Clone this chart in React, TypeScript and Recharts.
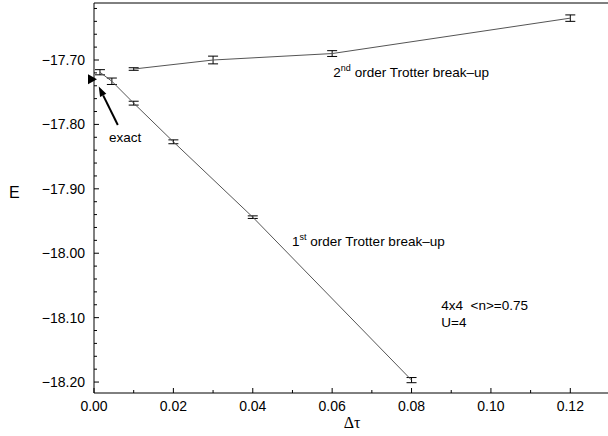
import React from 'react';
import { ComposedChart, Line, XAxis, YAxis, ErrorBar, ReferenceDot, ReferenceLine } from 'recharts';

// ---- data ----
const dtFirst = [0.0015, 0.0045, 0.01, 0.02, 0.04, 0.08];
const eFirst = [-17.719, -17.733, -17.767, -17.827, -17.944, -18.197];
const errFirst = [0.004, 0.005, 0.003, 0.003, 0.002, 0.004];

const dtSecond = [0.01, 0.03, 0.06, 0.12];
const eSecond = [-17.714, -17.7, -17.69, -17.635];
const errSecond = [0.002, 0.006, 0.0045, 0.005];

const exactE = -17.73;

const xTicks = [0, 0.01, 0.02, 0.03, 0.04, 0.05, 0.06, 0.07, 0.08, 0.09, 0.1, 0.11, 0.12, 0.13];
const yTicks = [
  -18.2, -18.18, -18.16, -18.14, -18.12, -18.1, -18.08, -18.06, -18.04, -18.02,
  -18.0, -17.98, -17.96, -17.94, -17.92, -17.9, -17.88, -17.86, -17.84, -17.82,
  -17.8, -17.78, -17.76, -17.74, -17.72, -17.7, -17.68, -17.66, -17.64, -17.62,
];

const labelSecond = { x: 0.0603, y: -17.7264 };
const labelFirst = { x: 0.0499, y: -17.9888 };
const labelParams = { x: 0.0875, y: -18.088 };
const labelParams2 = { x: 0.0875, y: -18.114 };
const labelExact = { x: 0.0038, y: -17.827 };
const arrowTail = { x: 0.006, y: -17.801 };
const arrowTip = { x: 0.0012, y: -17.741 };

const firstData = dtFirst.map((dt, i) => ({ dt, e: eFirst[i], err: errFirst[i] }));
const secondData = dtSecond.map((dt, i) => ({ dt, e: eSecond[i], err: errSecond[i] }));

const FONT = 'Liberation Sans, Arial, Helvetica, sans-serif';

const isMajorX = (v: number) => Math.round(v * 100) % 2 === 0;
const isMajorY = (v: number) => Math.abs(Math.round(v * 10) - v * 10) < 1e-6;

const BottomTick = (p: any) => {
  const v = p.payload.value;
  const major = isMajorX(v);
  return (
    <g>
      <line x1={p.x} x2={p.x} y1={p.y} y2={p.y - (major ? 5 : 3)} stroke="#000" strokeWidth={1} />
      {major && (
        <text x={p.x} y={p.y + 18} textAnchor="middle" fontSize={14} fontFamily={FONT} fill="#000">
          {v.toFixed(2)}
        </text>
      )}
    </g>
  );
};

const TopTick = (p: any) => {
  const v = p.payload.value;
  const major = isMajorX(v);
  return <line x1={p.x} x2={p.x} y1={p.y} y2={p.y + (major ? 5 : 3)} stroke="#000" strokeWidth={1} />;
};

const LeftTick = (p: any) => {
  const v = p.payload.value;
  const major = isMajorY(v);
  return (
    <g>
      <line x1={p.x} x2={p.x + (major ? 5 : 3)} y1={p.y} y2={p.y} stroke="#000" strokeWidth={1} />
      {major && (
        <text x={p.x - 9} y={p.y + 5} textAnchor="end" fontSize={14} fontFamily={FONT} fill="#000">
          {v.toFixed(2).replace('-', '\u2212')}
        </text>
      )}
    </g>
  );
};

const RightTick = (p: any) => {
  const v = p.payload.value;
  const major = isMajorY(v);
  return <line x1={p.x} x2={p.x - (major ? 5 : 3)} y1={p.y} y2={p.y} stroke="#000" strokeWidth={1} />;
};

const textShape = (content: React.ReactNode) => (p: any) => (
  <text x={p.cx} y={p.cy} fontSize={13.5} fontFamily={FONT} fill="#000" style={{ whiteSpace: 'pre' }}>
    {content}
  </text>
);

const Triangle = (p: any) => (
  <polygon points={`${p.cx - 6},${p.cy - 5} ${p.cx + 3},${p.cy} ${p.cx - 6},${p.cy + 5}`} fill="#000" />
);

const Arrow = (p: any) => {
  const { x1, y1, x2, y2 } = p;
  const dx = x2 - x1;
  const dy = y2 - y1;
  const len = Math.sqrt(dx * dx + dy * dy) || 1;
  const ux = dx / len;
  const uy = dy / len;
  const hl = 10;
  const hw = 3.5;
  const bx = x2 - ux * hl;
  const by = y2 - uy * hl;
  return (
    <g>
      <line x1={x1} y1={y1} x2={bx} y2={by} stroke="#000" strokeWidth={2} />
      <polygon
        points={`${x2},${y2} ${bx - uy * hw},${by + ux * hw} ${bx + uy * hw},${by - ux * hw}`}
        fill="#000"
      />
    </g>
  );
};

export default function App() {
  return (
    <div style={{ position: 'absolute', left: 0, top: 0, width: 608, height: 436, overflow: 'hidden', background: '#fff' }}>
      <ComposedChart width={620} height={436} margin={{ top: 0, right: 0, bottom: 0, left: 0 }}>
        <XAxis
          xAxisId="b"
          type="number"
          dataKey="dt"
          domain={[0, 0.13]}
          ticks={xTicks}
          interval={0}
          tickSize={0}
          tickMargin={0}
          tickLine={false}
          tick={BottomTick}
          height={43}
          stroke="#000"
          axisLine={{ stroke: '#000' }}
          label={{
            content: (lp: any) => {
              const vb = lp.viewBox || {};
              return (
                <text x={vb.x + vb.width / 2} y={vb.y + 35} textAnchor="middle" fontSize={16} fontFamily="Liberation Serif, Times New Roman, serif" fill="#000">
                  Δτ
                </text>
              );
            },
          }}
        />
        <XAxis
          xAxisId="t"
          orientation="top"
          type="number"
          dataKey="dt"
          domain={[0, 0.13]}
          ticks={xTicks}
          interval={0}
          tickSize={0}
          tickMargin={0}
          tickLine={false}
          tick={TopTick}
          height={3}
          axisLine={{ stroke: '#000' }}
        />
        <YAxis
          yAxisId="l"
          type="number"
          domain={[-18.217, -17.6115]}
          ticks={yTicks}
          interval={0}
          tickSize={0}
          tickMargin={0}
          tickLine={false}
          tick={LeftTick}
          width={94}
          axisLine={{ stroke: '#000' }}
          label={{
            content: (lp: any) => {
              const vb = lp.viewBox || {};
              return (
                <text x={9} y={vb.y + vb.height / 2} fontSize={16} fontFamily={FONT} fill="#000">
                  E
                </text>
              );
            },
          }}
        />
        <YAxis
          yAxisId="r"
          orientation="right"
          type="number"
          domain={[-18.217, -17.6115]}
          ticks={yTicks}
          interval={0}
          tickSize={0}
          tickMargin={0}
          tickLine={false}
          tick={RightTick}
          width={10}
          axisLine={{ stroke: '#000' }}
        />

        <Line
          xAxisId="b"
          yAxisId="l"
          data={firstData}
          dataKey="e"
          stroke="#555"
          strokeWidth={1}
          dot={false}
          isAnimationActive={false}
        >
          <ErrorBar dataKey="err" direction="y" width={5} stroke="#000" strokeWidth={1} isAnimationActive={false} />
        </Line>
        <Line
          xAxisId="b"
          yAxisId="l"
          data={secondData}
          dataKey="e"
          stroke="#555"
          strokeWidth={1}
          dot={false}
          isAnimationActive={false}
        >
          <ErrorBar dataKey="err" direction="y" width={5} stroke="#000" strokeWidth={1} isAnimationActive={false} />
        </Line>

        <ReferenceDot xAxisId="b" yAxisId="l" x={0} y={exactE} r={0} ifOverflow="visible" shape={Triangle} />
        <ReferenceLine xAxisId="b" yAxisId="l" segment={[arrowTail, arrowTip]} ifOverflow="visible" shape={Arrow} />

        <ReferenceDot xAxisId="b" yAxisId="l" x={labelExact.x} y={labelExact.y} r={0} ifOverflow="visible" shape={textShape('exact')} />
        <ReferenceDot
          xAxisId="b"
          yAxisId="l"
          x={labelSecond.x}
          y={labelSecond.y}
          r={0}
          ifOverflow="visible"
          shape={textShape(
            <>
              2<tspan dy={-6} fontSize={9}>nd</tspan>
              <tspan dy={6}> order Trotter break–up</tspan>
            </>
          )}
        />
        <ReferenceDot
          xAxisId="b"
          yAxisId="l"
          x={labelFirst.x}
          y={labelFirst.y}
          r={0}
          ifOverflow="visible"
          shape={textShape(
            <>
              1<tspan dy={-6} fontSize={9}>st</tspan>
              <tspan dy={6}> order Trotter break–up</tspan>
            </>
          )}
        />
        <ReferenceDot xAxisId="b" yAxisId="l" x={labelParams.x} y={labelParams.y} r={0} ifOverflow="visible" shape={textShape('4x4  <n>=0.75')} />
        <ReferenceDot xAxisId="b" yAxisId="l" x={labelParams2.x} y={labelParams2.y} r={0} ifOverflow="visible" shape={textShape('U=4')} />
      </ComposedChart>
    </div>
  );
}
